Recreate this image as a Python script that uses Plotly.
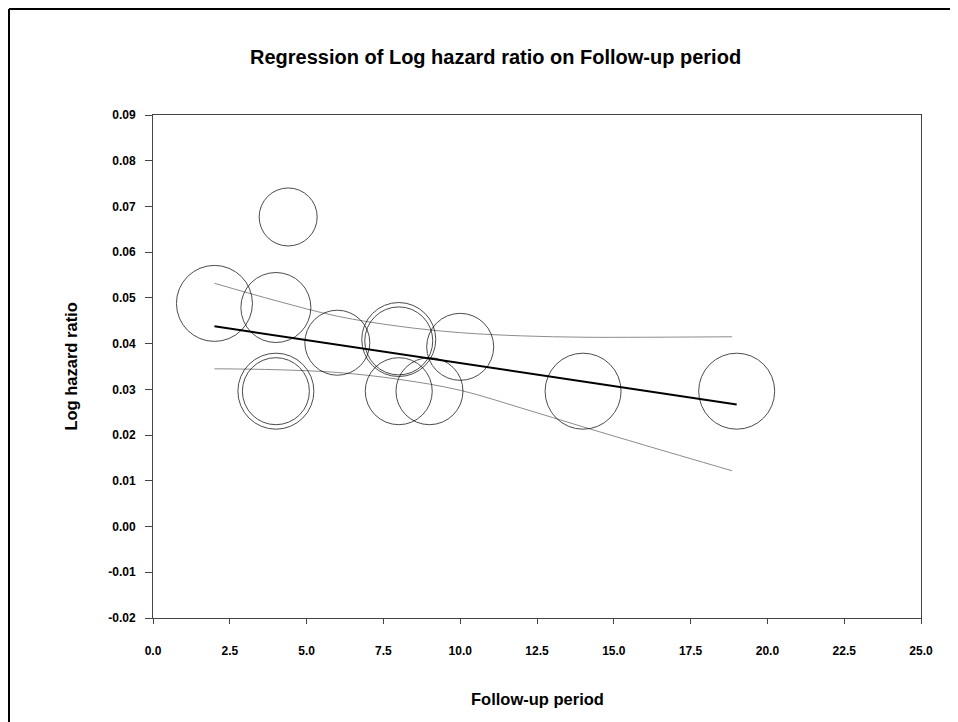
import plotly.graph_objects as go

# ---- data ----
study_x = [4.4, 2, 4, 6, 8, 8, 10, 4, 4, 8, 9, 14, 19]
study_y = [0.0677, 0.0488, 0.0479, 0.0402, 0.0409, 0.0406, 0.0393, 0.0296, 0.0296, 0.0296, 0.0296, 0.0296, 0.0296]
study_w = [58, 76, 70, 65, 74, 68, 67, 76, 67, 67, 67, 76, 76]  # bubble diameters (weights)

fit_x = [2, 19]
fit_y = [0.0438, 0.0267]

band_x = [2, 4, 6, 8, 10, 12, 14, 16, 18.85]
band_upper = [0.0532, 0.0494, 0.0460, 0.0438, 0.0424, 0.0417, 0.0414, 0.0414, 0.0415]
band_lower = [0.0345, 0.0343, 0.0337, 0.0322, 0.0298, 0.0259, 0.0218, 0.0178, 0.0122]

x_ticks = [0, 2.5, 5, 7.5, 10, 12.5, 15, 17.5, 20, 22.5, 25]
x_tick_labels = ["0.0", "2.5", "5.0", "7.5", "10.0", "12.5", "15.0", "17.5", "20.0", "22.5", "25.0"]
y_ticks = [-0.02, -0.01, 0.0, 0.01, 0.02, 0.03, 0.04, 0.05, 0.06, 0.07, 0.08, 0.09]
y_tick_labels = ["-0.02", "-0.01", "0.00", "0.01", "0.02", "0.03", "0.04", "0.05", "0.06", "0.07", "0.08", "0.09"]

title_text = "Regression of Log hazard ratio on Follow-up period"
x_title = "Follow-up period"
y_title = "Log hazard ratio"

FONT = "Arial, Liberation Sans, Helvetica, sans-serif"

fig = go.Figure()
fig.add_trace(go.Scatter(x=band_x, y=band_upper, mode="lines", line=dict(color="#8c8c8c", width=1, shape="spline"), hoverinfo="skip"))
fig.add_trace(go.Scatter(x=band_x, y=band_lower, mode="lines", line=dict(color="#8c8c8c", width=1, shape="spline"), hoverinfo="skip"))
fig.add_trace(go.Scatter(x=fit_x, y=fit_y, mode="lines", line=dict(color="black", width=2)))
fig.add_trace(go.Scatter(
    x=study_x, y=study_y, mode="markers",
    marker=dict(size=study_w, sizemode="diameter", color="rgba(0,0,0,0)",
                line=dict(color="black", width=1)),
))

fig.update_layout(
    width=950, height=714,
    margin=dict(l=145, r=37, t=107, b=104),
    paper_bgcolor="white", plot_bgcolor="white",
    showlegend=False,
    font=dict(family=FONT, color="black"),
    xaxis=dict(range=[0, 25], tickvals=x_ticks, ticktext=x_tick_labels,
               showgrid=False, zeroline=False,
               showline=True, linecolor="#444", linewidth=1, mirror=True,
               ticks="outside", ticklen=5, tickcolor="#444",
               ticklabelstandoff=17,
               tickfont=dict(size=12, family=FONT, weight="bold")),
    yaxis=dict(range=[-0.02, 0.09], tickvals=y_ticks, ticktext=y_tick_labels,
               showgrid=False, zeroline=False,
               showline=True, linecolor="#444", linewidth=1, mirror=True,
               ticks="outside", ticklen=7, tickcolor="#444",
               ticklabelstandoff=7,
               tickfont=dict(size=12, family=FONT, weight="bold")),
    annotations=[
        dict(text=title_text, xref="paper", yref="paper", x=0.446, y=1.1153,
             showarrow=False, xanchor="center", yanchor="middle",
             font=dict(size=20, family=FONT, weight="bold")),
        dict(text=x_title, xref="paper", yref="paper", x=0.5, y=-0.161,
             showarrow=False, xanchor="center", yanchor="middle",
             font=dict(size=16.5, family=FONT, weight="bold")),
        dict(text=y_title, xref="paper", yref="paper", x=-0.108, y=0.5,
             showarrow=False, xanchor="center", yanchor="middle", textangle=-90,
             font=dict(size=16.5, family=FONT, weight="bold")),
    ],
    shapes=[
        # outer frame: left and top edges (right/bottom lie outside the view)
        dict(type="line", xref="paper", yref="paper",
             x0=-0.1875, x1=-0.1875, y0=-0.25, y1=1.2107,
             line=dict(color="black", width=2), layer="below"),
        dict(type="line", xref="paper", yref="paper",
             x0=-0.1875, x1=1.2, y0=1.2107, y1=1.2107,
             line=dict(color="black", width=2), layer="below"),
    ],
)

fig.write_html("out.html")
